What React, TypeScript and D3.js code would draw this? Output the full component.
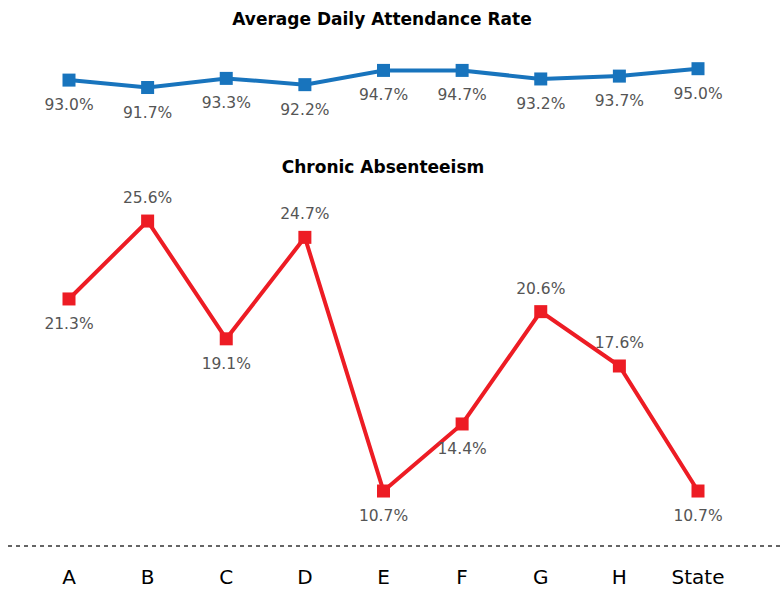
import React from "react";
import * as d3 from "d3";

const categories = ["A", "B", "C", "D", "E", "F", "G", "H", "State"];
const attendance = [93.0, 91.7, 93.3, 92.2, 94.7, 94.7, 93.2, 93.7, 95.0];
const absenteeism = [21.3, 25.6, 19.1, 24.7, 10.7, 14.4, 20.6, 17.6, 10.7];
// label placement for the red series: true = above the point
const absLabelAbove = [false, true, false, true, false, false, true, true, false];

const width = 780;
const height = 589;
const font = "'DejaVu Sans', sans-serif";

const App = () => {
  const x = d3
    .scalePoint<string>()
    .domain(categories)
    .range([69, 698]);

  const yAtt = d3.scaleLinear().domain([91, 96]).range([91.5, 63]);
  const yAbs = d3.scaleLinear().domain([10, 26]).range([503.7, 213.8]);

  const attLine = d3
    .line<number>()
    .x((_, i) => x(categories[i])!)
    .y((d) => yAtt(d));
  const absLine = d3
    .line<number>()
    .x((_, i) => x(categories[i])!)
    .y((d) => yAbs(d));

  const sq = 13;

  return (
    <svg
      width={width}
      height={height}
      style={{ position: "absolute", left: 0, top: 0 }}
    >
      <rect width={width} height={height} fill="#fff" />
      <text
        x={382}
        y={25}
        textAnchor="middle"
        fontFamily={font}
        fontWeight="bold"
        fontSize={17}
        fill="#000"
      >
        Average Daily Attendance Rate
      </text>
      <path d={attLine(attendance)!} fill="none" stroke="#1874bd" strokeWidth={4} />
      {attendance.map((d, i) => (
        <g key={"a" + i}>
          <rect
            x={x(categories[i])! - sq / 2}
            y={yAtt(d) - sq / 2}
            width={sq}
            height={sq}
            fill="#1874bd"
          />
          <text
            x={x(categories[i])!}
            y={yAtt(d) + 30}
            textAnchor="middle"
            fontFamily={font}
            fontSize={15.5}
            fill="#555"
          >
            {d.toFixed(1) + "%"}
          </text>
        </g>
      ))}

      <text
        x={383}
        y={173}
        textAnchor="middle"
        fontFamily={font}
        fontWeight="bold"
        fontSize={17}
        fill="#000"
      >
        Chronic Absenteeism
      </text>
      <path d={absLine(absenteeism)!} fill="none" stroke="#ed1c24" strokeWidth={4} />
      {absenteeism.map((d, i) => (
        <g key={"c" + i}>
          <rect
            x={x(categories[i])! - sq / 2}
            y={yAbs(d) - sq / 2}
            width={sq}
            height={sq}
            fill="#ed1c24"
          />
          <text
            x={x(categories[i])!}
            y={absLabelAbove[i] ? yAbs(d) - 18 : yAbs(d) + 30}
            textAnchor="middle"
            fontFamily={font}
            fontSize={15.5}
            fill="#555"
          >
            {d.toFixed(1) + "%"}
          </text>
        </g>
      ))}

      <line
        x1={8}
        x2={780}
        y1={546}
        y2={546}
        stroke="#333"
        strokeWidth={1.5}
        strokeDasharray="4 4"
      />
      {categories.map((c) => (
        <text
          key={c}
          x={x(c)!}
          y={584}
          textAnchor="middle"
          fontFamily={font}
          fontSize={20}
          fill="#000"
        >
          {c}
        </text>
      ))}
    </svg>
  );
};

export default App;
